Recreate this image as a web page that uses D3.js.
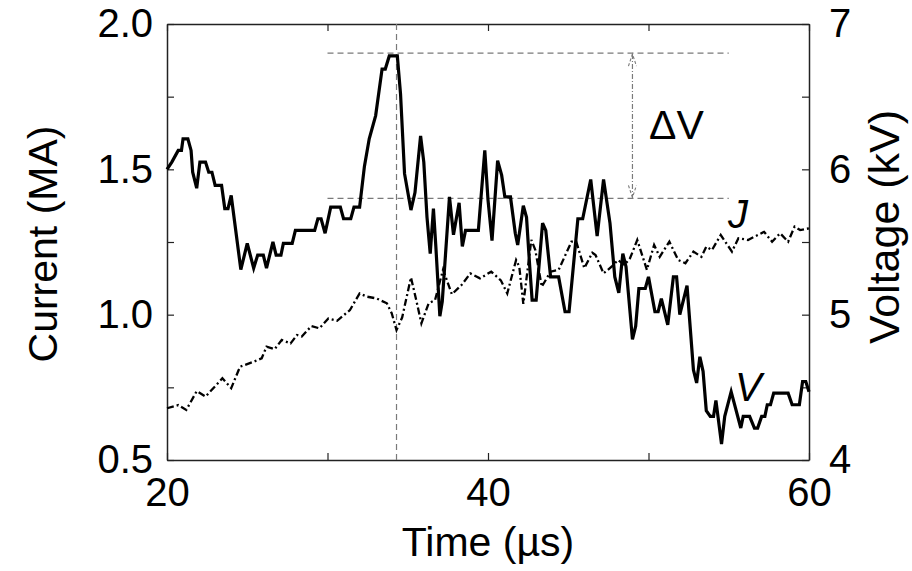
<!DOCTYPE html>
<html>
<head>
<meta charset="utf-8">
<script src="https://cdn.jsdelivr.net/npm/d3@7"></script>
<style>
  html, body { margin: 0; padding: 0; background: #fff; }
  svg { display: block; }
  text { font-family: "Liberation Sans", Arial, Helvetica, sans-serif; fill: #000; }
</style>
</head>
<body>
<svg id="chart" width="912" height="571"></svg>
<script>
// ---- data ----
const vTime = [20.0,20.3,20.7,20.9,21.0,21.3,21.5,21.6,21.85,22.05,22.4,22.6,22.8,23.0,23.4,23.6,23.8,24.0,24.2,24.6,25.0,25.4,25.65,26.0,26.2,26.6,26.8,27.1,27.25,27.8,28.0,29.2,29.4,29.6,29.85,30.2,30.8,31.0,31.45,31.65,32.0,32.3,32.6,33.0,33.4,33.6,33.85,34.35,34.55,34.8,35.2,35.45,35.8,36.0,36.2,36.4,36.6,36.75,37.0,37.15,37.6,37.85,38.2,38.4,38.6,39.4,39.8,40.0,40.25,40.6,40.85,41.05,41.4,41.7,41.85,42.2,42.4,42.6,42.75,43.0,43.4,43.6,43.9,44.4,44.8,45.05,45.6,45.9,46.4,46.8,47.2,47.6,47.9,48.15,48.4,48.6,49.0,49.2,49.4,49.8,50.0,50.4,50.6,50.8,51.2,51.55,51.75,51.95,52.4,52.8,53.0,53.2,53.4,53.6,53.85,54.05,54.2,54.55,54.75,55.15,55.75,55.9,56.3,56.6,56.8,57.05,57.25,57.4,57.6,57.8,58.7,58.95,59.4,59.6,59.8,60.0];
const vVolt = [6.00,6.05,6.13,6.13,6.21,6.21,6.13,5.98,5.87,6.05,6.05,5.98,5.98,5.89,5.89,5.73,5.73,5.82,5.65,5.31,5.49,5.32,5.41,5.41,5.32,5.50,5.41,5.41,5.49,5.49,5.58,5.58,5.66,5.66,5.56,5.74,5.74,5.66,5.66,5.74,5.74,6.02,6.21,6.37,6.69,6.69,6.78,6.78,6.52,5.97,5.72,5.84,6.23,6.05,5.67,5.42,5.73,5.47,4.99,5.09,5.81,5.55,5.77,5.47,5.58,5.58,6.13,5.79,5.51,6.06,5.96,5.81,5.81,5.56,5.48,5.75,5.67,5.33,5.10,5.10,5.63,5.58,5.26,5.26,5.02,5.02,5.66,5.66,5.93,5.54,5.93,5.63,5.26,5.15,5.42,5.33,4.83,4.92,5.18,5.18,5.26,5.02,5.02,5.11,4.93,5.26,5.26,5.00,5.20,4.62,4.53,4.71,4.61,4.34,4.30,4.30,4.41,4.11,4.30,4.47,4.22,4.30,4.30,4.22,4.22,4.30,4.30,4.38,4.38,4.46,4.46,4.38,4.38,4.54,4.54,4.47];

const jTime = [20.0,20.7,21.2,21.85,22.4,23.45,24.0,24.55,25.4,25.9,26.2,26.7,27.15,27.7,28.1,28.4,29.0,29.5,30.05,30.6,31.4,32.0,32.45,33.05,33.7,34.0,34.3,34.65,35.2,35.55,35.85,36.3,36.7,37.2,37.75,38.35,38.9,39.5,40.2,40.8,41.2,41.75,41.95,42.2,42.7,42.95,43.35,43.9,44.4,45.2,45.5,46.0,46.5,46.7,47.2,47.7,48.1,48.5,48.85,49.3,49.9,50.35,50.7,51.3,51.85,52.3,52.8,53.3,53.6,53.95,54.5,55.2,55.6,56.2,57.2,57.7,58.2,58.7,59.1,59.45,60.0];
const jCurr = [0.678,0.689,0.672,0.737,0.718,0.781,0.747,0.821,0.838,0.850,0.890,0.881,0.913,0.901,0.930,0.925,0.961,0.953,0.987,0.979,1.016,1.073,1.062,1.056,1.039,1.005,0.947,0.990,1.128,1.045,0.970,1.039,1.050,1.155,1.070,1.102,1.142,1.125,1.148,1.118,1.073,1.188,1.165,1.037,1.257,1.222,1.096,1.148,1.154,1.251,1.251,1.160,1.213,1.205,1.142,1.165,1.188,1.171,1.194,1.257,1.154,1.240,1.199,1.251,1.188,1.177,1.217,1.199,1.234,1.222,1.274,1.217,1.263,1.257,1.285,1.251,1.280,1.251,1.303,1.291,1.297];

const xTicks = [20, 30, 40, 50, 60];
const xTickLabels = {20: "20", 40: "40", 60: "60"};
const leftTicks = [0.5, 0.75, 1.0, 1.25, 1.5, 1.75, 2.0];
const leftTickLabels = {0.5: "0.5", 1.0: "1.0", 1.5: "1.5", 2.0: "2.0"};
const rightTicks = [4, 4.5, 5, 5.5, 6, 6.5, 7];
const rightTickLabels = {4: "4", 5: "5", 6: "6", 7: "7"};

// annotation values
const peakTime = [34.3];
const deltaVLevels = [6.8, 5.8];
const deltaVSpan = [30, 55];
const arrowTime = [49];

// ---- layout ----
const svg = d3.select("#chart");
const margin = {left: 167, right: 103, top: 24, bottom: 111};
const W = 912, H = 571;
const x = d3.scaleLinear().domain([20, 60]).range([margin.left, W - margin.right]);
const yL = d3.scaleLinear().domain([0.5, 2.0]).range([H - margin.bottom, margin.top]);
const yR = d3.scaleLinear().domain([4, 7]).range([H - margin.bottom, margin.top]);

svg.append("rect").attr("width", W).attr("height", H).attr("fill", "#fff");

const tickLen = 7;
const FS = 40;

// axes (ticks inward)
const axBottom = d3.axisBottom(x).tickValues(xTicks).tickSizeInner(-tickLen).tickSizeOuter(0).tickFormat(d => xTickLabels[d] || "").tickPadding(18);
const axTop = d3.axisTop(x).tickValues(xTicks).tickSizeInner(-tickLen).tickSizeOuter(0).tickFormat("");
const axLeft = d3.axisLeft(yL).tickValues(leftTicks).tickSizeInner(-tickLen).tickSizeOuter(0).tickFormat(d => leftTickLabels[d] || "").tickPadding(14);
const axRight = d3.axisRight(yR).tickValues(rightTicks).tickSizeInner(-tickLen).tickSizeOuter(0).tickFormat(d => rightTickLabels[d] || "").tickPadding(20);

function styleAxis(g) {
  g.select(".domain").attr("stroke", "#222").attr("stroke-width", 1.5);
  g.selectAll(".tick line").attr("stroke", "#222").attr("stroke-width", 1.2);
  g.selectAll(".tick text").attr("font-size", FS).attr("font-family", '"Liberation Sans", Arial, sans-serif').attr("fill", "#000");
}
svg.append("g").attr("transform", `translate(0,${H - margin.bottom})`).call(axBottom).call(styleAxis);
svg.append("g").attr("transform", `translate(0,${margin.top})`).call(axTop).call(styleAxis);
svg.append("g").attr("transform", `translate(${margin.left},0)`).call(axLeft).call(styleAxis);
svg.append("g").attr("transform", `translate(${W - margin.right},0)`).call(axRight).call(styleAxis);

// annotation dashed lines
const gray = "#7a7a7a";
svg.append("line")
  .attr("x1", x(peakTime[0])).attr("x2", x(peakTime[0]))
  .attr("y1", margin.top).attr("y2", H - margin.bottom)
  .attr("stroke", gray).attr("stroke-width", 1.2).attr("stroke-dasharray", "6,4");
deltaVLevels.forEach(v => {
  svg.append("line")
    .attr("x1", x(deltaVSpan[0])).attr("x2", x(deltaVSpan[1]))
    .attr("y1", yR(v)).attr("y2", yR(v))
    .attr("stroke", gray).attr("stroke-width", 1.2).attr("stroke-dasharray", "6,4");
});
// double arrow
const ax = x(arrowTime[0]);
const yTop = yR(deltaVLevels[0]), yBot = yR(deltaVLevels[1]);
svg.append("line").attr("x1", ax).attr("x2", ax).attr("y1", yTop + 1).attr("y2", yBot - 1)
  .attr("stroke", gray).attr("stroke-width", 1.2).attr("stroke-dasharray", "5,2,1,2");
svg.append("path").attr("d", `M${ax - 4},${yTop + 13} L${ax},${yTop + 1} L${ax + 4},${yTop + 13}`)
  .attr("fill", "none").attr("stroke", gray).attr("stroke-width", 1.1).attr("stroke-dasharray", "3,2");
svg.append("path").attr("d", `M${ax - 4},${yBot - 13} L${ax},${yBot - 1} L${ax + 4},${yBot - 13}`)
  .attr("fill", "none").attr("stroke", gray).attr("stroke-width", 1.1).attr("stroke-dasharray", "3,2");

// series
const jData = jTime.map((t, i) => [t, jCurr[i]]);
const vData = vTime.map((t, i) => [t, vVolt[i]]);

svg.append("path").datum(jData)
  .attr("d", d3.line().x(d => x(d[0])).y(d => yL(d[1])))
  .attr("fill", "none").attr("stroke", "#000").attr("stroke-width", 2.3)
  .attr("stroke-dasharray", "7,3,2,3");

svg.append("path").datum(vData)
  .attr("d", d3.line().x(d => x(d[0])).y(d => yR(d[1])))
  .attr("fill", "none").attr("stroke", "#000").attr("stroke-width", 3.2)
  .attr("stroke-linejoin", "miter").attr("stroke-miterlimit", 4);

// labels
svg.append("text").attr("x", 649).attr("y", 139).attr("font-size", 41).text("\u0394V");
svg.append("text").attr("x", 728).attr("y", 228).attr("font-size", FS).attr("font-style", "italic").text("J");
svg.append("text").attr("x", 735).attr("y", 401).attr("font-size", FS).attr("font-style", "italic").text("V");

// axis titles
svg.append("text").attr("x", x(40)).attr("y", 556).attr("text-anchor", "middle").attr("font-size", 41).text("Time (\u00b5s)");
svg.append("text").attr("transform", `translate(57,244) rotate(-90)`).attr("text-anchor", "middle").attr("font-size", 41).text("Current (MA)");
svg.append("text").attr("transform", `translate(899,227) rotate(-90)`).attr("text-anchor", "middle").attr("font-size", 43).text("Voltage (kV)");
</script>
</body>
</html>
